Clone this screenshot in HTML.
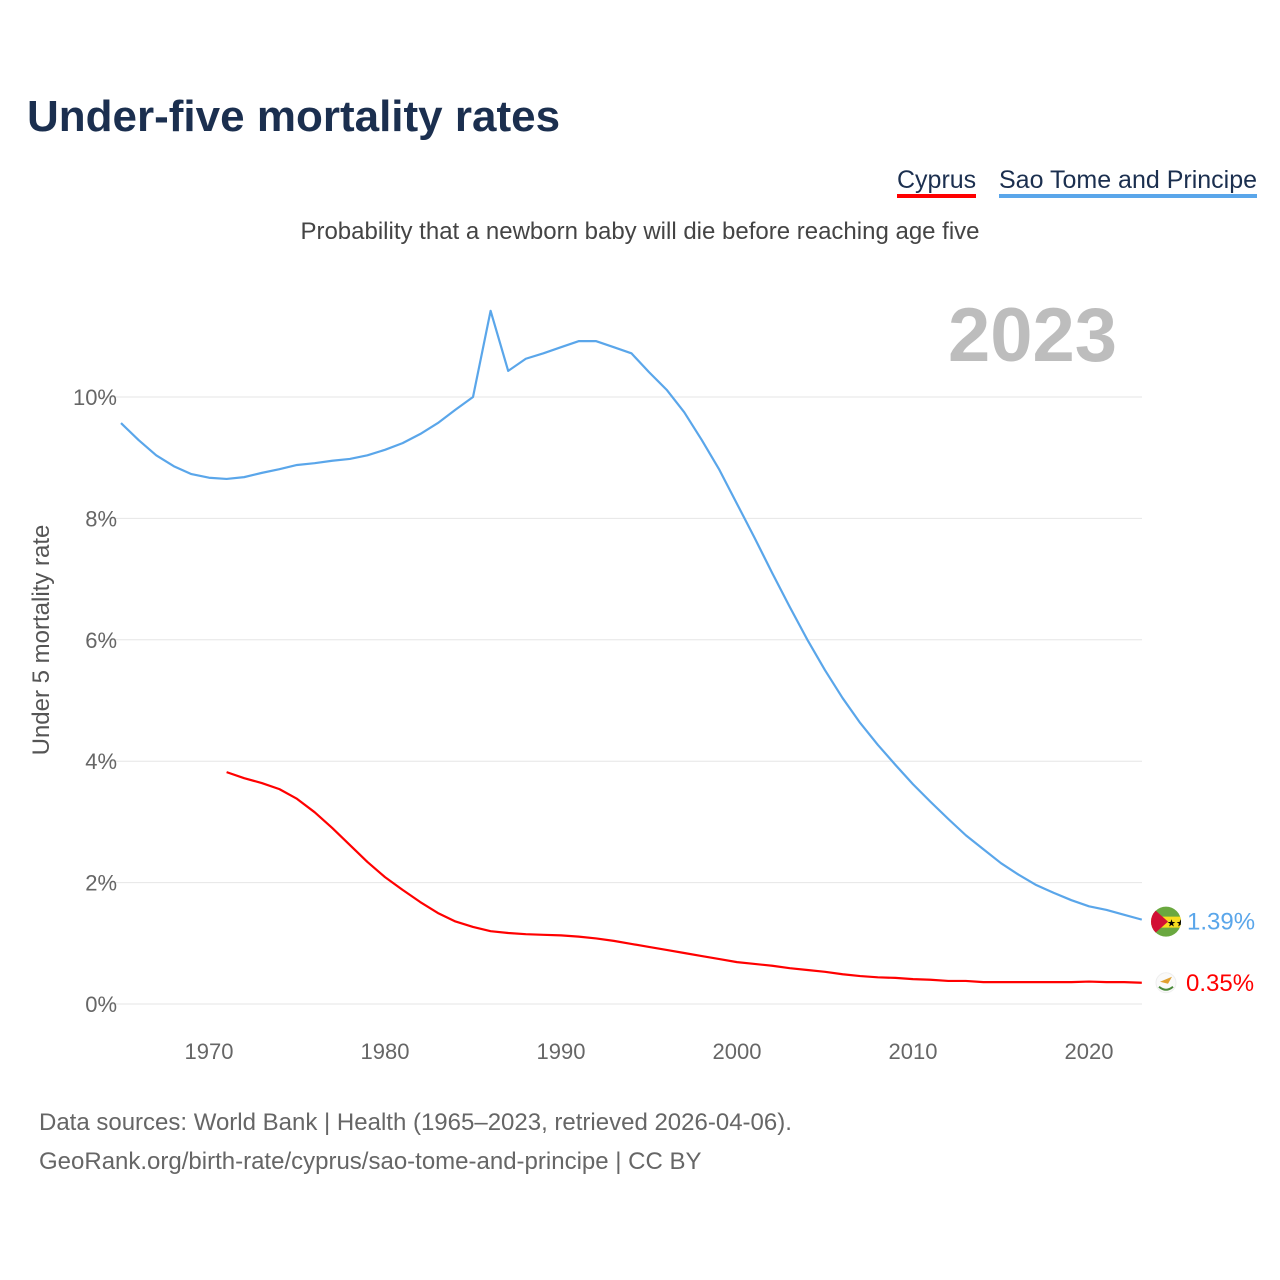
<!DOCTYPE html>
<html><head><meta charset="utf-8"><style>
body{margin:0;background:#fff;font-family:"Liberation Sans",sans-serif;}
#wrap{position:relative;width:1280px;height:1280px;overflow:hidden;}
.t{position:absolute;white-space:nowrap;}
</style></head><body>
<div id="wrap">
<div class="t" style="left:27px;top:92px;font-size:44px;font-weight:bold;color:#1b2f4f;">Under-five mortality rates</div>
<div class="t" style="left:897px;top:166px;font-size:25px;color:#1b2f4f;border-bottom:4px solid #f00;line-height:28px;">Cyprus</div>
<div class="t" style="left:999px;top:166px;font-size:25px;color:#1b2f4f;border-bottom:4px solid #5aa6ea;line-height:28px;">Sao Tome and Principe</div>
<div class="t" style="left:0;width:1280px;text-align:center;top:218px;font-size:24px;color:#444;">Probability that a newborn baby will die before reaching age five</div>
<div class="t" style="left:948px;top:292px;font-size:76px;font-weight:bold;color:#bdbdbd;">2023</div>
<div class="t" style="left:42px;top:640px;font-size:24px;color:#555;transform:translate(-50%,-50%) rotate(-90deg);">Under 5 mortality rate</div>
<div class="t" style="left:39px;top:1103px;font-size:24px;color:#666;line-height:39px;">Data sources: World Bank | Health (1965–2023, retrieved 2026-04-06).<br>GeoRank.org/birth-rate/cyprus/sao-tome-and-principe | CC BY</div>
<svg id="svg" width="1280" height="1280" style="position:absolute;left:0;top:0"></svg>
</div>
<script>
const yTicks=[0,2,4,6,8,10];
const xTicks=[1970,1980,1990,2000,2010,2020];
const stpYears=[];for(let y=1965;y<=2023;y++)stpYears.push(y);
const stpValues=[9.57,9.29,9.04,8.86,8.73,8.67,8.65,8.68,8.75,8.81,8.88,8.91,8.95,8.98,9.04,9.13,9.24,9.39,9.57,9.79,10.0,11.42,10.43,10.63,10.72,10.82,10.92,10.92,10.82,10.72,10.41,10.12,9.75,9.29,8.80,8.24,7.68,7.10,6.54,6.00,5.50,5.04,4.63,4.27,3.94,3.62,3.33,3.05,2.78,2.55,2.32,2.13,1.96,1.83,1.71,1.61,1.55,1.47,1.39];
const cyYears=[];for(let y=1971;y<=2023;y++)cyYears.push(y);
const cyValues=[3.82,3.72,3.64,3.54,3.38,3.16,2.90,2.62,2.34,2.09,1.88,1.68,1.50,1.36,1.27,1.20,1.17,1.15,1.14,1.13,1.11,1.08,1.04,0.99,0.94,0.89,0.84,0.79,0.74,0.69,0.66,0.63,0.59,0.56,0.53,0.49,0.46,0.44,0.43,0.41,0.40,0.38,0.38,0.36,0.36,0.36,0.36,0.36,0.36,0.37,0.36,0.36,0.35];
const X=y=>209+(y-1970)*17.6;
const Y=v=>1004-v*60.7;
const svg=document.getElementById('svg');const NS='http://www.w3.org/2000/svg';
function mk(t,a,p){const e=document.createElementNS(NS,t);for(const k in a)e.setAttribute(k,a[k]);(p||svg).appendChild(e);return e;}
yTicks.forEach(v=>{
 const l=mk('line',{x1:100,x2:1142,y1:Y(v),y2:Y(v),stroke:'#e6e6e6','stroke-width':1});
 
 
 const t=mk('text',{x:117,y:Y(v)+8,'text-anchor':'end','font-size':22,fill:'#666','font-family':'Liberation Sans'});
 t.textContent=v+'%';
 
 
});
xTicks.forEach(v=>{
 const t=mk('text',{x:X(v),y:1059,'text-anchor':'middle','font-size':22,fill:'#666','font-family':'Liberation Sans'});
 t.textContent=v;
 
 
});
function line(years,vals,col,name){
 const p=mk('polyline',{points:years.map((y,i)=>X(y)+','+Y(vals[i])).join(' '),fill:'none',stroke:col,'stroke-width':2.2,'stroke-linejoin':'round'});
 
 
}
line(stpYears,stpValues,'#5aa6ea','sao-tome-line');
line(cyYears,cyValues,'#f00','cyprus-line');
const sy=Y(stpValues[stpValues.length-1])+2,cy=Y(cyValues[cyValues.length-1]);
const defs=mk('defs',{});
const cp=mk('clipPath',{id:'sc'},defs);mk('circle',{cx:1166,cy:sy,r:15},cp);
const g=mk('g',{'clip-path':'url(#sc)'});


mk('rect',{x:1150,y:sy-16,width:32,height:32,fill:'#6aa83f'},g);
mk('rect',{x:1150,y:sy-5,width:32,height:11,fill:'#f7dd1e'},g);
mk('path',{d:`M1150,${sy-16} L1168,${sy} L1150,${sy+16} Z`,fill:'#d21034'},g);
mk('text',{x:1167,y:sy+5,'font-size':10,fill:'#000'},g).textContent='★★';
const cf=mk('circle',{cx:1166,cy:cy,r:10,fill:'#fafafa',stroke:'#eee'});


mk('path',{d:`M1160,${cy-1} L1172,${cy-6} L1168,${cy+1} Z`,fill:'#e0a030'});
mk('path',{d:`M1159,${cy+4} Q1166,${cy+10} 1173,${cy+4}`,fill:'none',stroke:'#4a8a3a','stroke-width':2});
const sl=mk('text',{x:1187,y:sy+8,'font-size':24,fill:'#5aa6ea','font-family':'Liberation Sans'});
sl.textContent=stpValues[stpValues.length-1].toFixed(2)+'%';


const cl=mk('text',{x:1186,y:cy+8,'font-size':24,fill:'#f00','font-family':'Liberation Sans'});
cl.textContent=cyValues[cyValues.length-1].toFixed(2)+'%';


</script>
</body></html>
